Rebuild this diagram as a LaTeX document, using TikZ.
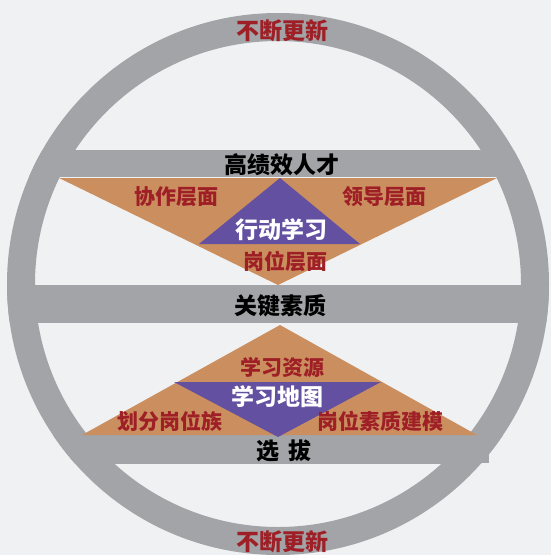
\documentclass[tikz,border=0pt]{standalone}
\usepackage{fontspec}
\newfontfamily\cjk{Noto Sans CJK SC}
\definecolor{bgc}{HTML}{F0F1F3}
\definecolor{ringc}{HTML}{A2A4A7}
\definecolor{orangec}{HTML}{CB8F5F}
\definecolor{purplec}{HTML}{6350A0}
\definecolor{redc}{HTML}{9E1F26}
\begin{document}
\begin{tikzpicture}[x=1pt,y=-1pt,
  lbl/.style={font=\cjk\bfseries\fontsize{21}{21}\selectfont, inner sep=0pt, text=redc},
  big/.style={font=\cjk\bfseries\fontsize{23}{23}\selectfont, inner sep=0pt},
  bartxt/.style={big, text=black},
  intxt/.style={big, text=white}]
\fill[bgc] (0,0) rectangle (551,555);
\useasboundingbox (0,0) rectangle (551,555);
% ring
\fill[ringc, even odd rule] (278,284) circle (271pt) (278,284) circle (243pt);
% bars
\begin{scope}
  \clip (278,284) circle (271pt);
  \fill[ringc] (0,150) rectangle (551,177);
  \fill[ringc] (0,285) rectangle (551,323);
  \fill[ringc] (0,435) rectangle (551,464);
\end{scope}
\fill[ringc] (476,449) rectangle (489,463);
% top inverted triangle
\coordinate (tl) at (59,178);
\coordinate (tr) at (497,178);
\coordinate (tb) at (278,285);
\fill[orangec] (tl) -- (tr) -- (tb) -- cycle;
\coordinate (pa) at (280,178);
\coordinate (pl) at (199,244);
\coordinate (pr) at (360,244);
\fill[purplec] (pa) -- (pl) -- (pr) -- cycle;
% bottom triangle
\coordinate (ba) at (280,325);
\coordinate (bl) at (82,435);
\coordinate (br) at (477,435);
\fill[orangec] (ba) -- (bl) -- (br) -- cycle;
\coordinate (qa) at (278,437);
\coordinate (ql) at (174,382);
\coordinate (qr) at (381,382);
\fill[purplec] (ql) -- (qr) -- (qa) -- cycle;
% texts
\node[lbl, font=\cjk\bfseries\fontsize{23}{23}\selectfont] (top) at (282,31) {不断更新};
\node[lbl, font=\cjk\bfseries\fontsize{23}{23}\selectfont] (bot) at (282,542) {不断更新};
\node[bartxt] (gj) at (282,165) {高绩效人才};
\node[bartxt] (gz) at (280,306) {关键素质};
\node[bartxt] (xb) at (284,451) {选\hspace{0.35em}拔};
\node[lbl] (xz) at (176,197) {协作层面};
\node[lbl] (ld) at (384,197) {领导层面};
\node[intxt] (xd) at (281,230) {行动学习};
\node[lbl] (gw) at (285,261) {岗位层面};
\node[lbl] (zy) at (282,367) {学习资源};
\node[intxt] (dt) at (277,397) {学习地图};
\node[lbl] (hf) at (170,421) {划分岗位族};
\node[lbl] (jm) at (380,421) {岗位素质建模};
\end{tikzpicture}
\end{document}
